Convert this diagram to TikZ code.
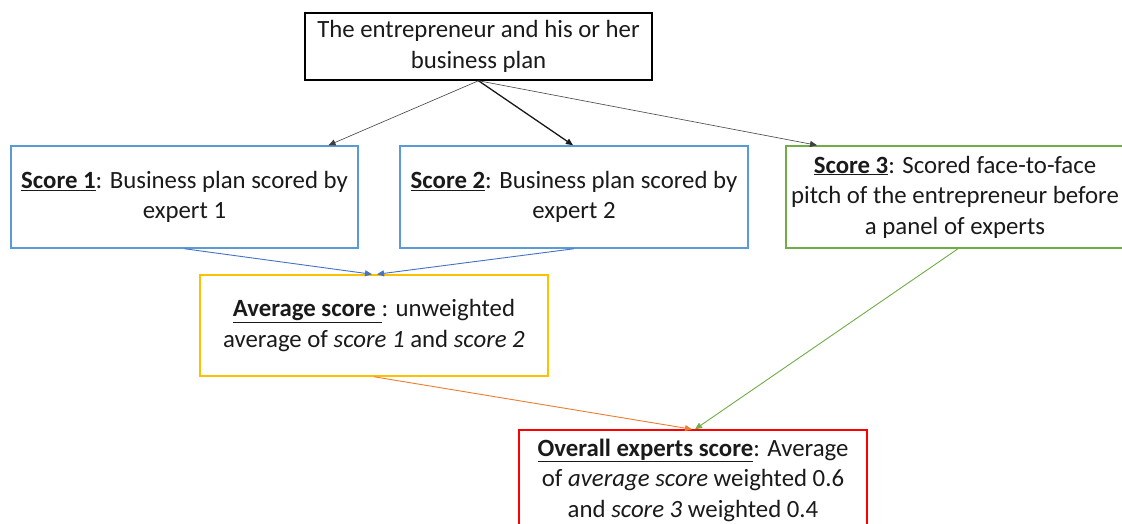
\documentclass[tikz,border=0pt]{standalone}
\usepackage{fontspec}
\setmainfont{Carlito}
\usetikzlibrary{arrows.meta,calc}
\definecolor{bxblue}{HTML}{5B9BD5}
\definecolor{lnblue}{HTML}{4472C4}
\definecolor{bxgold}{HTML}{FFC000}
\definecolor{bxgreen}{HTML}{70AD47}
\definecolor{bxred}{HTML}{FF0000}
\definecolor{lnorange}{HTML}{ED7D31}
\definecolor{txt}{HTML}{1A1A1A}
\tikzset{
  box/.style={draw, line width=1.5pt, fill=white, align=center, inner sep=0pt,
    font=\fontsize{24.8}{30.5}\selectfont, text=txt},
  tip/.style={-{Triangle[length=7pt,width=6pt]}},
  thinln/.style={tip, line width=0.6pt, draw=black!75},
}
\newcommand{\ul}[1]{\underline{\textbf{#1}}}
\begin{document}
\begin{tikzpicture}[x=1pt,y=-1pt]
\clip (0,0) rectangle (1122,524);
\fill[white] (0,0) rectangle (1122,524);
\node[box, draw=black, minimum width=347pt, minimum height=67pt] (top) at (478.5,46.5)
  {The entrepreneur and his or her\\business plan};
\node[box, draw=bxblue, minimum width=347pt, minimum height=102pt] (s1) at (184.5,197)
  {\ul{Score 1}: Business plan scored by\\expert 1};
\node[box, draw=bxblue, minimum width=348pt, minimum height=102pt] (s2) at (574,197)
  {\ul{Score 2}: Business plan scored by\\expert 2};
\node[box, draw=bxgreen, minimum width=338pt, minimum height=102pt] (s3) at (955,197)
  {\ul{Score 3}: Scored face-to-face\\pitch of the entrepreneur before\\a panel of experts};
\node[box, draw=bxgold, minimum width=348pt, minimum height=101pt] (avg) at (374,325.5)
  {\ul{Average score }: unweighted\\average of \textit{score 1} and \textit{score 2}};
\node[box, draw=bxred, minimum width=348pt, minimum height=100pt] (ovr) at (693,480)
  {\ul{Overall experts score}: Average\\of \textit{average score} weighted 0.6\\and \textit{score 3} weighted 0.4};
\draw[thinln] (top.south) -- ($(s1.north)+(144,0)$);
\draw[tip, line width=1.3pt, draw=black!90] (top.south) -- ($(s2.north)+(-1,0)$);
\draw[thinln] (top.south) -- ($(s3.north)+(-138,0)$);
\draw[tip, line width=0.9pt, draw=lnblue] (s1.south) -- ($(avg.north)+(-2,0)$);
\draw[tip, line width=0.9pt, draw=lnblue] (s2.south) -- ($(avg.north)+(3,0)$);
\draw[tip, line width=0.9pt, draw=lnorange] (avg.south) -- ($(ovr.north)+(-1,0)$);
\draw[tip, line width=0.9pt, draw=bxgreen] ($(s3.south)+(3,0)$) -- ($(ovr.north)+(2,0)$);
\end{tikzpicture}
\end{document}
